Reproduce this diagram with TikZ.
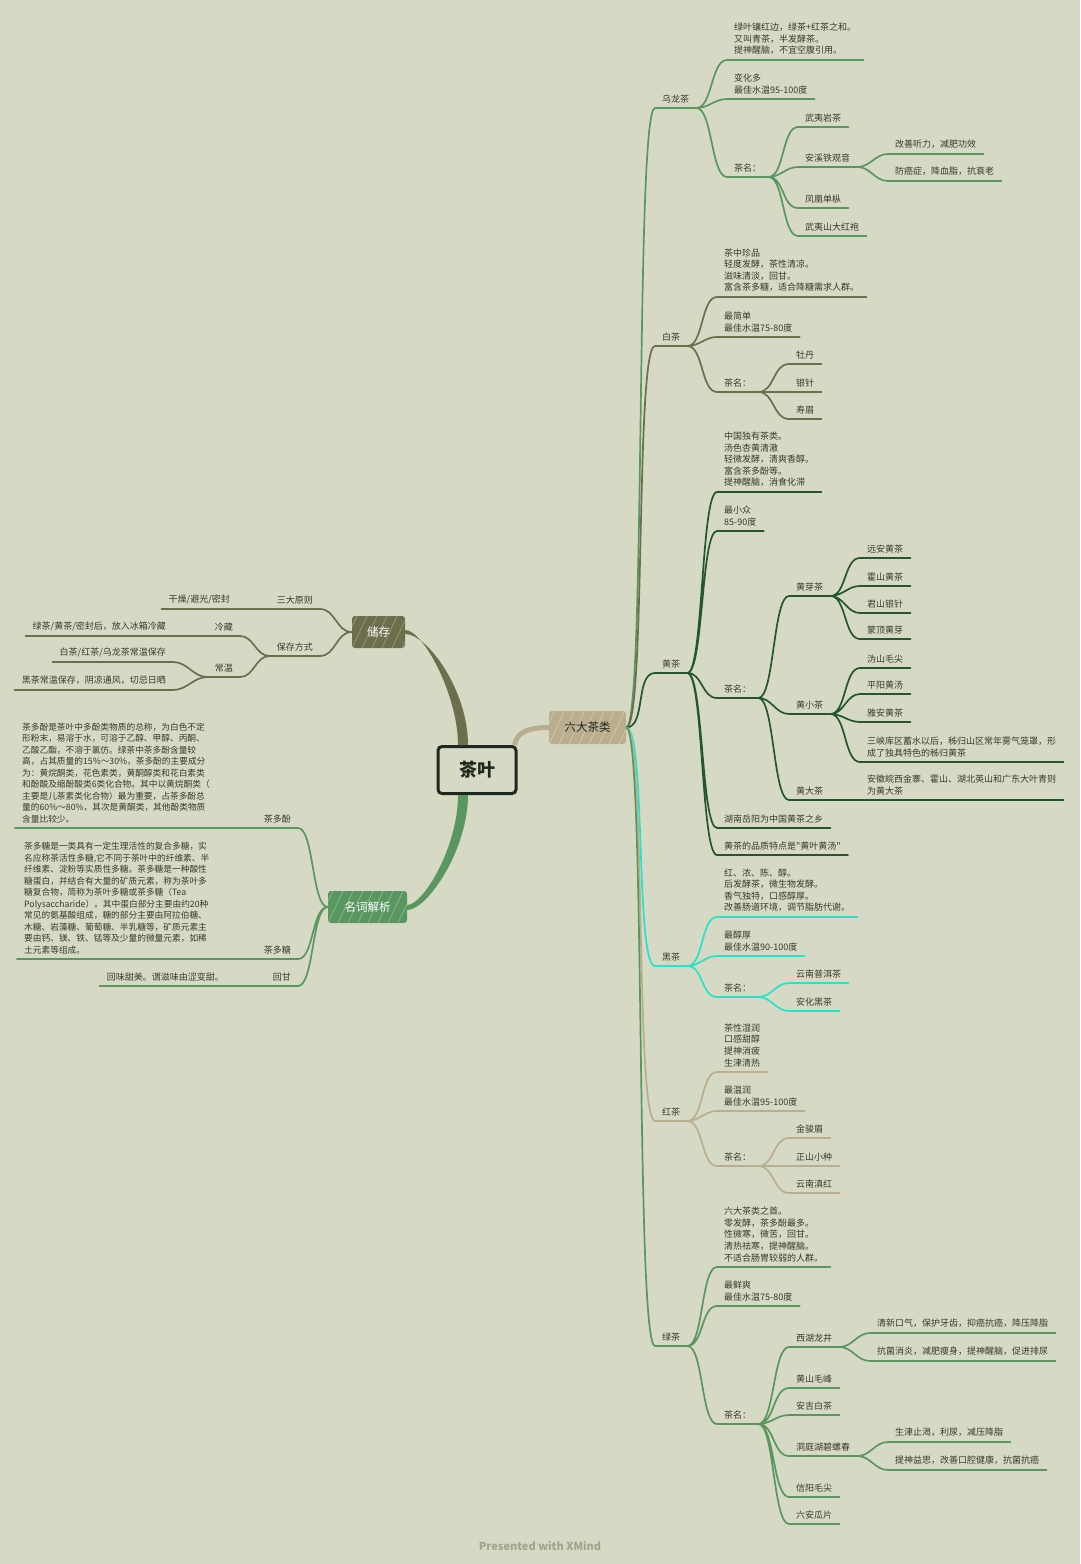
\documentclass[tikz,border=0pt]{standalone}
\usepackage{fontspec}
\newfontfamily\cjk{Noto Sans CJK SC}
\usepackage{tikz}

\definecolor{bg}{RGB}{214,218,196}
\definecolor{txt}{RGB}{55,58,46}
\definecolor{ink}{RGB}{30,40,30}
\definecolor{olv}{RGB}{108,110,76}
\definecolor{grn}{RGB}{90,150,96}
\definecolor{dgr}{RGB}{36,86,48}
\definecolor{cyn}{RGB}{40,226,202}
\definecolor{bge}{RGB}{186,174,142}
\definecolor{cr}{RGB}{160,165,142}
\newcommand\mmfont{\cjk\fontsize{9}{11.6}\selectfont}
\newcommand\mmsmall{\cjk\fontsize{8.7}{11.5}\selectfont}

\begin{document}
\begin{tikzpicture}[x=1pt,y=-1pt,
 t/.style={font=\mmfont,text=txt,inner xsep=7pt,inner ysep=5pt,align=left,anchor=south west,
  append after command={(\tikzlastnode.south west) edge[draw=#1,line width=2pt,line cap=round] (\tikzlastnode.south east)}},
 tl/.style={t=#1,anchor=south east},
 l/.style={draw=#1,line width=1.7pt,out=0,in=180,max distance=16pt},
 ll/.style={l=#1,out=180,in=0},
 m/.style={font=\cjk\fontsize{11.5}{13}\selectfont,rounded corners=3pt,minimum height=32pt,inner sep=2pt,
  path picture={\foreach \i in {-20,-10,...,80} \draw[white,opacity=.3,line width=.7pt] ([xshift=\i pt]path picture bounding box.south west) -- ++(16,-34);}}]
\path[use as bounding box,fill=bg] (0,0) rectangle (1080,1564);
% centre and main branches
\node[draw=ink,line width=3pt,rounded corners=4pt,minimum width=78pt,minimum height=47pt,text=ink,font=\cjk\bfseries\fontsize{18}{20}\selectfont] (tea) at (477,770) {茶叶};
\node[m,fill=olv,text=white,minimum width=53pt] (store) at (378.5,632) {储存};
\node[m,fill=grn,text=white,minimum width=79pt] (terms) at (367.5,907) {名词解析};
\node[m,fill=bge,text=ink,minimum width=77pt,minimum height=33pt] (six) at (587.5,727.5) {六大茶类};
\fill[olv] ([yshift=-2pt]store.east) .. controls +(22,0) and +(0,-55) .. ([xshift=-9pt]tea.north) -- ([xshift=-19pt]tea.north) .. controls +(0,-50) and +(18,0) .. ([yshift=2pt]store.east) -- cycle;
\fill[grn] ([xshift=-9pt]tea.south) .. controls +(0,55) and +(20,0) .. ([yshift=-3pt]terms.east) -- ([yshift=2pt]terms.east) .. controls +(16,0) and +(0,52) .. ([xshift=-19pt]tea.south) -- cycle;
\draw[bge,line width=5pt] ([xshift=-3pt]tea.north east) .. controls +(2,-13) and +(-20,0) .. (six.west);
% 乌龙茶
\node[t=grn] (o) at (655,108) {乌龙茶};
\node[t=grn] (o1) at (727,60) {绿叶镶红边，绿茶+红茶之和。\\又叫青茶，半发酵茶。\\提神醒脑，不宜空腹引用。};
\node[t=grn] (o2) at (727,99) {变化多\\最佳水温95-100度};
\node[t=grn] (o3) at (727,177) {茶名：};
\node[t=grn] (o31) at (798,127) {武夷岩茶};
\node[t=grn] (o32) at (798,167) {安溪铁观音};
\node[t=grn] (o321) at (888,154) {改善听力，减肥功效};
\node[t=grn] (o322) at (888,181) {防癌症，降血脂，抗衰老};
\node[t=grn] (o33) at (798,208) {凤凰单枞};
\node[t=grn] (o34) at (798,236) {武夷山大红袍};
\draw[l=grn] (o.south east) to (o1.south west) (o.south east) to (o2.south west) (o.south east) to (o3.south west);
\draw[l=grn] (o3.south east) to (o31.south west) (o3.south east) to (o32.south west) (o3.south east) to (o33.south west) (o3.south east) to (o34.south west);
\draw[l=grn] (o32.south east) to (o321.south west) (o32.south east) to (o322.south west);
% 白茶
\node[t=olv] (w) at (655,346) {白茶};
\node[t=olv] (w1) at (717,297) {茶中珍品\\轻度发酵，茶性清凉。\\滋味清淡，回甘。\\富含茶多糖，适合降糖需求人群。};
\node[t=olv] (w2) at (717,337) {最简单\\最佳水温75-80度};
\node[t=olv] (w3) at (717,392) {茶名：};
\node[t=olv] (w31) at (789,364) {牡丹};
\node[t=olv] (w32) at (789,392) {银针};
\node[t=olv] (w33) at (789,419) {寿眉};
\draw[l=olv] (w.south east) to (w1.south west) (w.south east) to (w2.south west) (w.south east) to (w3.south west);
\draw[l=olv] (w3.south east) to (w31.south west) (w3.south east) to (w32.south west) (w3.south east) to (w33.south west);
% 黄茶
\node[t=dgr] (y) at (655,673) {黄茶};
\node[t=dgr] (y1) at (717,492) {中国独有茶类。\\汤色杏黄清澈\\轻微发酵，清爽香醇。\\富含茶多酚等。\\提神醒脑，消食化滞};
\node[t=dgr] (y2) at (717,531) {最小众\\85-90度};
\node[t=dgr] (y3) at (717,698) {茶名：};
\node[t=dgr] (y31) at (789,596) {黄芽茶};
\node[t=dgr] (y311) at (860,558) {远安黄茶};
\node[t=dgr] (y312) at (860,586) {霍山黄茶};
\node[t=dgr] (y313) at (860,613) {君山银针};
\node[t=dgr] (y314) at (860,639) {蒙顶黄芽};
\node[t=dgr] (y32) at (789,714) {黄小茶};
\node[t=dgr] (y321) at (860,668) {沩山毛尖};
\node[t=dgr] (y322) at (860,694) {平阳黄汤};
\node[t=dgr] (y323) at (860,722) {雅安黄茶};
\node[t=dgr] (y324) at (860,762) {三峡库区蓄水以后，秭归山区常年雾气笼罩，形\\成了独具特色的秭归黄茶};
\node[t=dgr] (y33) at (789,800) {黄大茶};
\node[t=dgr] (y331) at (860,800) {安徽皖西金寨、霍山、湖北英山和广东大叶青则\\为黄大茶};
\node[t=dgr] (y4) at (717,828) {湖南岳阳为中国黄茶之乡};
\node[t=dgr] (y5) at (717,855) {黄茶的品质特点是"黄叶黄汤"};
\draw[l=dgr] (y.south east) to (y1.south west) (y.south east) to (y2.south west) (y.south east) to (y3.south west) (y.south east) to (y4.south west) (y.south east) to (y5.south west);
\draw[l=dgr] (y3.south east) to (y31.south west) (y3.south east) to (y32.south west) (y3.south east) to (y33.south west);
\draw[l=dgr] (y31.south east) to (y311.south west) (y31.south east) to (y312.south west) (y31.south east) to (y313.south west) (y31.south east) to (y314.south west);
\draw[l=dgr] (y32.south east) to (y321.south west) (y32.south east) to (y322.south west) (y32.south east) to (y323.south west) (y32.south east) to (y324.south west);
\draw[l=dgr] (y33.south east) to (y331.south west);
% 黑茶
\node[t=cyn] (k) at (655,966) {黑茶};
\node[t=cyn] (k1) at (717,917) {红、浓、陈、醇。\\后发酵茶，微生物发酵。\\香气独特，口感醇厚。\\改善肠道环境，调节脂肪代谢。};
\node[t=cyn] (k2) at (717,956) {最醇厚\\最佳水温90-100度};
\node[t=cyn] (k3) at (717,997) {茶名：};
\node[t=cyn] (k31) at (789,983) {云南普洱茶};
\node[t=cyn] (k32) at (789,1011) {安化黑茶};
\draw[l=cyn] (k.south east) to (k1.south west) (k.south east) to (k2.south west) (k.south east) to (k3.south west);
\draw[l=cyn] (k3.south east) to (k31.south west) (k3.south east) to (k32.south west);
% 红茶
\node[t=bge] (r) at (655,1121) {红茶};
\node[t=bge] (r1) at (717,1072) {茶性湿润\\口感甜醇\\提神消疲\\生津清热};
\node[t=bge] (r2) at (717,1111) {最温润\\最佳水温95-100度};
\node[t=bge] (r3) at (717,1166) {茶名：};
\node[t=bge] (r31) at (789,1138) {金骏眉};
\node[t=bge] (r32) at (789,1166) {正山小种};
\node[t=bge] (r33) at (789,1193) {云南滇红};
\draw[l=bge] (r.south east) to (r1.south west) (r.south east) to (r2.south west) (r.south east) to (r3.south west);
\draw[l=bge] (r3.south east) to (r31.south west) (r3.south east) to (r32.south west) (r3.south east) to (r33.south west);
% 绿茶
\node[t=grn] (g) at (655,1346) {绿茶};
\node[t=grn] (g1) at (717,1267) {六大茶类之首。\\零发酵，茶多酚最多。\\性微寒，微苦，回甘。\\清热祛寒，提神醒脑。\\不适合肠胃较弱的人群。};
\node[t=grn] (g2) at (717,1306) {最鲜爽\\最佳水温75-80度};
\node[t=grn] (g3) at (717,1424) {茶名：};
\node[t=grn] (g31) at (789,1347) {西湖龙井};
\node[t=grn] (g311) at (870,1333) {清新口气，保护牙齿，抑癌抗癌，降压降脂};
\node[t=grn] (g312) at (870,1361) {抗菌消炎，减肥瘦身，提神醒脑，促进排尿};
\node[t=grn] (g32) at (789,1388) {黄山毛峰};
\node[t=grn] (g33) at (789,1415) {安吉白茶};
\node[t=grn] (g34) at (789,1456) {洞庭湖碧螺春};
\node[t=grn] (g341) at (888,1442) {生津止渴，利尿，减压降脂};
\node[t=grn] (g342) at (888,1470) {提神益思，改善口腔健康，抗菌抗癌};
\node[t=grn] (g35) at (789,1497) {信阳毛尖};
\node[t=grn] (g36) at (789,1524) {六安瓜片};
\draw[l=grn] (g.south east) to (g1.south west) (g.south east) to (g2.south west) (g.south east) to (g3.south west);
\draw[l=grn] (g3.south east) to (g31.south west) (g3.south east) to (g32.south west) (g3.south east) to (g33.south west) (g3.south east) to (g34.south west) (g3.south east) to (g35.south west) (g3.south east) to (g36.south west);
\draw[l=grn] (g31.south east) to (g311.south west) (g31.south east) to (g312.south west);
\draw[l=grn] (g34.south east) to (g341.south west) (g34.south east) to (g342.south west);
% six kinds
\draw[l=grn,max distance=20pt] (six.east) to (o.south west);
\draw[l=olv,max distance=20pt] (six.east) to (w.south west);
\draw[l=dgr,max distance=20pt] (six.east) to (y.south west);
\draw[l=cyn,max distance=20pt] (six.east) to (k.south west);
\draw[l=bge,max distance=20pt] (six.east) to (r.south west);
\draw[l=grn,max distance=20pt] (six.east) to (g.south west);
% 储存
\node[tl=olv] (s1) at (320,609) {三大原则};
\node[tl=olv] (s11) at (237,609) {干燥/避光/密封};
\node[tl=olv] (s2) at (320,656) {保存方式};
\node[tl=olv] (s21) at (240,636) {冷藏};
\node[tl=olv] (s211) at (173,636) {绿茶/黄茶/密封后，放入冰箱冷藏};
\node[tl=olv] (s22) at (240,677) {常温};
\node[tl=olv] (s221) at (173,662) {白茶/红茶/乌龙茶常温保存};
\node[tl=olv] (s222) at (173,690) {黑茶常温保存，阴凉通风，切忌日晒};
\draw[ll=olv] (store.west) to (s1.south east) (store.west) to (s2.south east);
\draw[ll=olv] (s1.south west) to (s11.south east);
\draw[ll=olv] (s2.south west) to (s21.south east) (s2.south west) to (s22.south east);
\draw[ll=olv] (s21.south west) to (s211.south east);
\draw[ll=olv] (s22.south west) to (s221.south east) (s22.south west) to (s222.south east);
% 名词解析
\node[tl=grn] (n1) at (298,828) {茶多酚};
\node[t=grn,font=\mmsmall] (n11) at (15,828) {茶多酚是茶叶中多酚类物质的总称，为白色不定\\形粉末，易溶于水，可溶于乙醇、甲醇、丙酮、\\乙酸乙酯，不溶于氯仿。绿茶中茶多酚含量较\\高，占其质量的15\%～30\%，茶多酚的主要成分\\为：黄烷酮类，花色素类，黄酮醇类和花白素类\\和酚酸及缩酚酸类6类化合物。其中以黄烷酮类（\\主要是儿茶素类化合物）最为重要，占茶多酚总\\量的60\%～80\%，其次是黄酮类，其他酚类物质\\含量比较少。};
\node[tl=grn] (n2) at (298,959) {茶多糖};
\node[t=grn,font=\mmsmall] (n21) at (17,959) {茶多糖是一类具有一定生理活性的复合多糖，实\\名应称茶活性多糖,它不同于茶叶中的纤维素、半\\纤维素、淀粉等实质性多糖。茶多糖是一种酸性\\糖蛋白，并结合有大量的矿质元素，称为茶叶多\\糖复合物，简称为茶叶多糖或茶多糖（Tea\\Polysaccharide）。其中蛋白部分主要由约20种\\常见的氨基酸组成，糖的部分主要由阿拉伯糖、\\木糖、岩藻糖、葡萄糖、半乳糖等，矿质元素主\\要由钙、镁、铁、锰等及少量的微量元素，如稀\\土元素等组成。};
\node[tl=grn] (n3) at (298,986) {回甘};
\node[tl=grn] (n31) at (231,986) {回味甜美。谓滋味由涩变甜。};
\draw[ll=grn] (terms.west) to (n1.south east) (terms.west) to (n2.south east) (terms.west) to (n3.south east);
\draw[ll=grn] (n1.south west) to (n11.south east) (n2.south west) to (n21.south east) (n3.south west) to (n31.south east);
\node[text=cr,font=\cjk\bfseries\fontsize{11}{13}\selectfont] (cred) at (540,1546) {Presented with XMind};
\end{tikzpicture}
\end{document}
